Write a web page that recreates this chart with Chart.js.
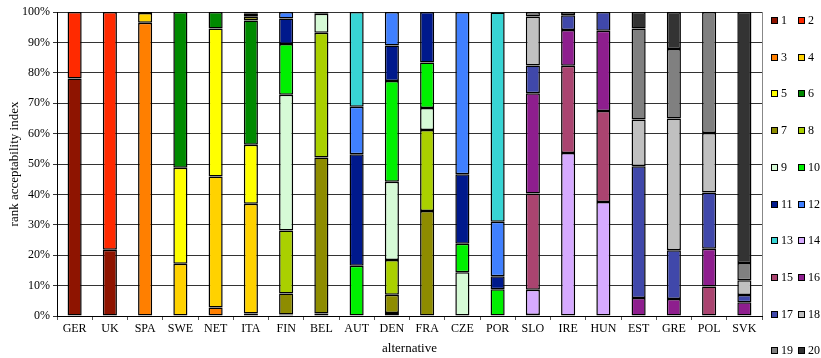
<!DOCTYPE html>
<html>
<head>
<meta charset="utf-8">
<script src="https://cdn.jsdelivr.net/npm/chart.js@4.4.0/dist/chart.umd.min.js"></script>
<style>
  body { margin: 0; background: #fff; }
  #wrap { width: 821px; height: 358px; }
</style>
</head>
<body>
<div id="wrap"><canvas id="rankChart" width="821" height="358"></canvas></div>
<script>
// Alternativas (eje X)
const alternatives = ['GER', 'UK', 'SPA', 'SWE', 'NET', 'ITA', 'FIN', 'BEL', 'AUT', 'DEN',
                      'FRA', 'CZE', 'POR', 'SLO', 'IRE', 'HUN', 'EST', 'GRE', 'POL', 'SVK'];

// Índice de aceptabilidad por rango (%), un array por rango
const rank1  = [78.1, 21.8, 0, 0, 0, 0, 0, 0, 0, 0, 0, 0, 0, 0, 0, 0, 0, 0, 0, 0];
const rank2  = [21.9, 78.2, 0, 0, 0, 0, 0, 0, 0, 0, 0, 0, 0, 0, 0, 0, 0, 0, 0, 0];
const rank3  = [0, 0, 96.5, 0, 2.8, 0.8, 0, 0, 0, 0, 0, 0, 0, 0, 0, 0, 0, 0, 0, 0];
const rank4  = [0, 0, 3.2, 17.2, 43.1, 36.1, 0, 0, 0, 0, 0, 0, 0, 0, 0, 0, 0, 0, 0, 0];
const rank5  = [0, 0, 0.3, 31.6, 48.7, 19.4, 0, 0, 0, 0, 0, 0, 0, 0, 0, 0, 0, 0, 0, 0];
const rank6  = [0, 0, 0, 51.2, 5.4, 40.9, 0.5, 0.8, 0, 1.0, 0, 0, 0, 0, 0, 0, 0, 0, 0, 0];
const rank7  = [0, 0, 0, 0, 0, 1.2, 6.9, 51.3, 0, 6.0, 34.5, 0, 0, 0, 0, 0, 0, 0, 0, 0];
const rank8  = [0, 0, 0, 0, 0, 1.0, 20.7, 41.1, 0, 11.4, 26.7, 0, 0, 0, 0, 0, 0, 0, 0, 0];
const rank9  = [0, 0, 0, 0, 0, 0.6, 44.7, 6.2, 0, 25.8, 7.2, 14.4, 0, 0, 0, 0, 0, 0, 0, 0];
const rank10 = [0, 0, 0, 0, 0, 0, 16.7, 0.6, 16.5, 33.1, 15.0, 9.4, 8.8, 0, 0, 0, 0, 0, 0, 0];
const rank11 = [0, 0, 0, 0, 0, 0, 8.4, 0, 36.7, 11.7, 16.6, 22.8, 4.3, 0, 0, 0, 0, 0, 0, 0];
const rank12 = [0, 0, 0, 0, 0, 0, 2.1, 0, 15.6, 11.0, 0, 53.4, 17.9, 0, 0, 0, 0, 0, 0, 0];
const rank13 = [0, 0, 0, 0, 0, 0, 0, 0, 31.2, 0, 0, 0, 68.8, 0.3, 0, 0, 0, 0, 0, 0];
const rank14 = [0, 0, 0, 0, 0, 0, 0, 0, 0, 0, 0, 0, 0.2, 8.3, 53.6, 37.5, 0, 0, 0, 0];
const rank15 = [0, 0, 0, 0, 0, 0, 0, 0, 0, 0, 0, 0, 0, 31.7, 28.7, 29.9, 0, 0, 9.7, 0];
const rank16 = [0, 0, 0, 0, 0, 0, 0, 0, 0, 0, 0, 0, 0, 33.0, 11.8, 26.4, 5.9, 5.6, 12.4, 4.5];
const rank17 = [0, 0, 0, 0, 0, 0, 0, 0, 0, 0, 0, 0, 0, 9.1, 4.8, 6.2, 43.4, 16.0, 18.5, 2.4];
const rank18 = [0, 0, 0, 0, 0, 0, 0, 0, 0, 0, 0, 0, 0, 16.1, 1.1, 0, 15.3, 43.4, 19.6, 4.9];
const rank19 = [0, 0, 0, 0, 0, 0, 0, 0, 0, 0, 0, 0, 0, 1.5, 0, 0, 30.0, 22.8, 39.8, 5.6];
const rank20 = [0, 0, 0, 0, 0, 0, 0, 0, 0, 0, 0, 0, 0, 0, 0, 0, 5.4, 12.2, 0, 82.6];

const rankSeries = [rank1, rank2, rank3, rank4, rank5, rank6, rank7, rank8, rank9, rank10,
                    rank11, rank12, rank13, rank14, rank15, rank16, rank17, rank18, rank19, rank20];

const rankColors = ['#8e1400', '#ff2a00', '#ff7f00', '#ffd200', '#ffff00', '#008a00', '#8e8c00',
                    '#aad000', '#d6fad6', '#00f000', '#00198c', '#4080ff', '#38d4d4', '#d6aaff',
                    '#aa4470', '#8e1e8e', '#4048aa', '#c0c0c0', '#808080', '#333333'];

const serif = '"Liberation Serif", "Times New Roman", serif';

// Leyenda en dos columnas (1 2 / 3 4 / ...)
const gridLegend = {
    id: 'gridLegend',
    afterDraw(chart) {
        const ctx = chart.ctx;
        const area = chart.chartArea;
        ctx.save();
        // borde derecho del área
        ctx.strokeStyle = '#888';
        ctx.lineWidth = 1;
        ctx.beginPath();
        ctx.moveTo(Math.round(area.right) + 0.5, area.top);
        ctx.lineTo(Math.round(area.right) + 0.5, area.bottom);
        ctx.stroke();

        ctx.font = '12px ' + serif;
        ctx.textBaseline = 'middle';
        chart.data.datasets.forEach((ds, i) => {
            const col = i % 2;
            const row = Math.floor(i / 2);
            const x = Math.round(area.right) + 9 + col * 27;
            const y = Math.round(20 + row * 36.7);
            ctx.fillStyle = ds.backgroundColor;
            ctx.fillRect(x, y - 3, 7, 7);
            ctx.strokeStyle = '#000';
            ctx.strokeRect(x + 0.5, y - 2.5, 6, 6);
            ctx.fillStyle = '#000';
            ctx.fillText(ds.label, x + 10, y + 1);
        });
        ctx.restore();
    }
};

const ctx = document.getElementById('rankChart').getContext('2d');
const rankChart = new Chart(ctx, {
    type: 'bar',
    data: {
        labels: alternatives,
        datasets: rankSeries.map((vals, i) => ({
            label: String(i + 1),
            data: vals.map(v => (v > 0 ? v : null)),
            backgroundColor: rankColors[i],
            borderColor: '#000',
            borderWidth: 1.5,
            borderSkipped: false,
            barPercentage: 0.4,
            categoryPercentage: 1.0
        }))
    },
    options: {
        responsive: false,
        animation: false,
        layout: { padding: { top: 12, right: 59, left: 0, bottom: 0 } },
        plugins: {
            legend: { display: false },
            tooltip: { enabled: false }
        },
        scales: {
            x: {
                stacked: true,
                offset: true,
                afterFit: s => { s.height = 42; },
                grid: {
                    offset: true,
                    drawOnChartArea: false,
                    drawTicks: true,
                    tickLength: 4,
                    color: '#555'
                },
                border: { color: '#000' },
                ticks: { color: '#000', font: { family: serif, size: 12 }, padding: 2, maxRotation: 0 },
                title: {
                    display: true,
                    text: 'alternative',
                    color: '#000',
                    font: { family: serif, size: 13 },
                    padding: { top: 0, bottom: 2 }
                }
            },
            y: {
                stacked: true,
                min: 0,
                max: 100,
                afterFit: s => { s.width = 57; },
                grid: { color: '#333', tickLength: 4 },
                border: { color: '#000' },
                ticks: {
                    stepSize: 10,
                    color: '#000',
                    font: { family: serif, size: 12 },
                    padding: 3,
                    callback: v => v + '%'
                },
                title: {
                    display: true,
                    text: 'rank acceptability index',
                    color: '#000',
                    font: { family: serif, size: 13 },
                    padding: { top: 7, bottom: 0 }
                }
            }
        }
    },
    plugins: [gridLegend]
});
</script>
</body>
</html>
